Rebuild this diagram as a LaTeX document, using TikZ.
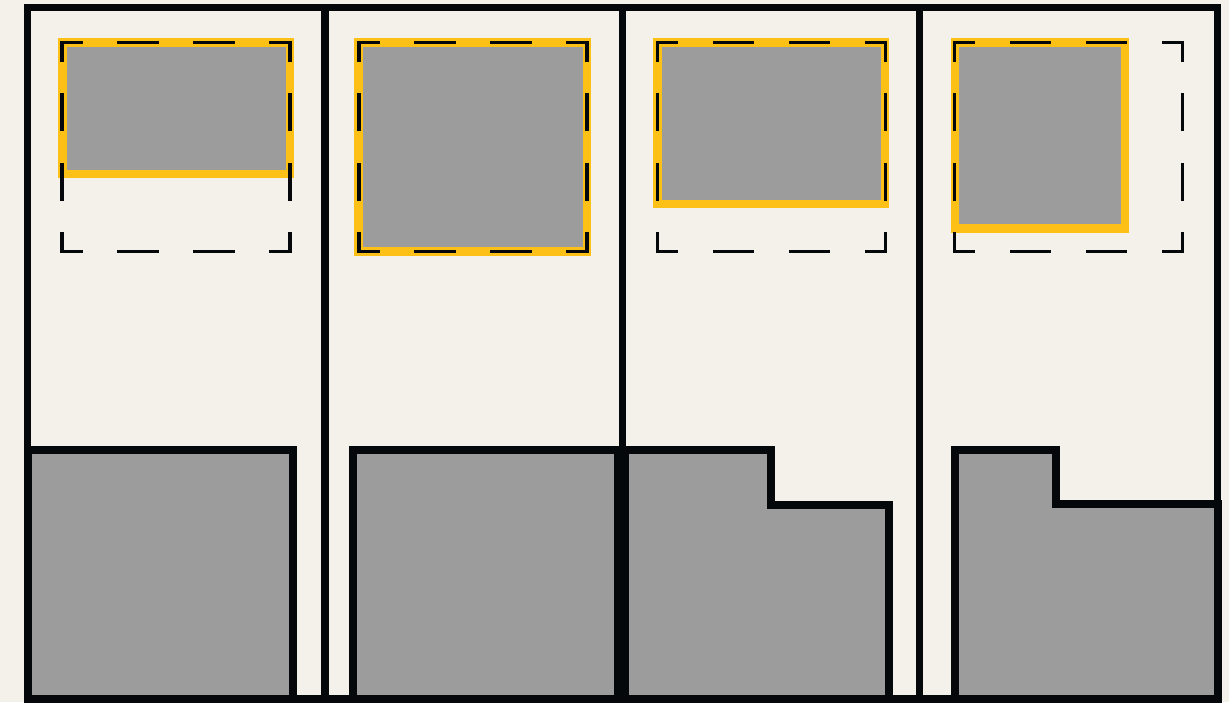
\documentclass[tikz,border=0pt]{standalone}
\usepackage{tikz}
\definecolor{paper}{HTML}{F4F1EA}
\definecolor{ink}{HTML}{05080A}
\definecolor{slab}{HTML}{9C9C9C}
\definecolor{amber}{HTML}{FCC016}
\tikzset{
  wall/.style={draw=ink, line width=7.5pt},
  block/.style={fill=slab, draw=ink, line width=8pt, line join=miter},
  pick/.style={fill=slab, draw=amber, line width=8.5pt},
  hdash/.style={draw=ink, line width=3.2pt, line cap=rect, dash pattern=on 38pt off 38pt, dash phase=19pt},
  vdash/.style={draw=ink, line width=3.2pt, line cap=rect, dash pattern=on 34.8pt off 34.8pt, dash phase=17.4pt}
}
\begin{document}
\begin{tikzpicture}[x=1pt,y=-1pt]
\fill[paper] (0,0) rectangle (1229,702);
\useasboundingbox (0,0) rectangle (1229,702);
% frame
\draw[wall] (27.5,7.5) rectangle (1217.5,699);
\foreach \x in {325,622.5,919.5}
  \draw[wall] (\x,7.5)--(\x,699);
% blocks
\draw[block] (27.5,449.5) rectangle (293,699);
\draw[block] (353,449.5) rectangle (617.5,699);
\draw[block] (624.5,449.5)--(771,449.5)--(771,504.5)--(888.5,504.5)--(888.5,699)--(624.5,699)--cycle;
\draw[block] (954.5,449.5)--(1055.5,449.5)--(1055.5,504)--(1217.5,504)--(1217.5,699)--(954.5,699)--cycle;
% picks
\draw[pick] (62.5,42.5) rectangle (290,174);
\draw[pick] (358.5,42.5) rectangle (587,251.5);
\draw[pick] (657.5,42.5) rectangle (885,204);
\draw[pick] (955,42.5) rectangle (1125,228.5);
% slots
\foreach \x in {62,359,657.5,954.5}{
  \draw[hdash] (\x,42.5)--++(228,0);
  \draw[hdash] (\x,251.5)--++(228,0);
  \draw[vdash] (\x,42.5)--++(0,209);
  \draw[vdash] (\x+228,42.5)--++(0,209);
}
\end{tikzpicture}
\end{document}
